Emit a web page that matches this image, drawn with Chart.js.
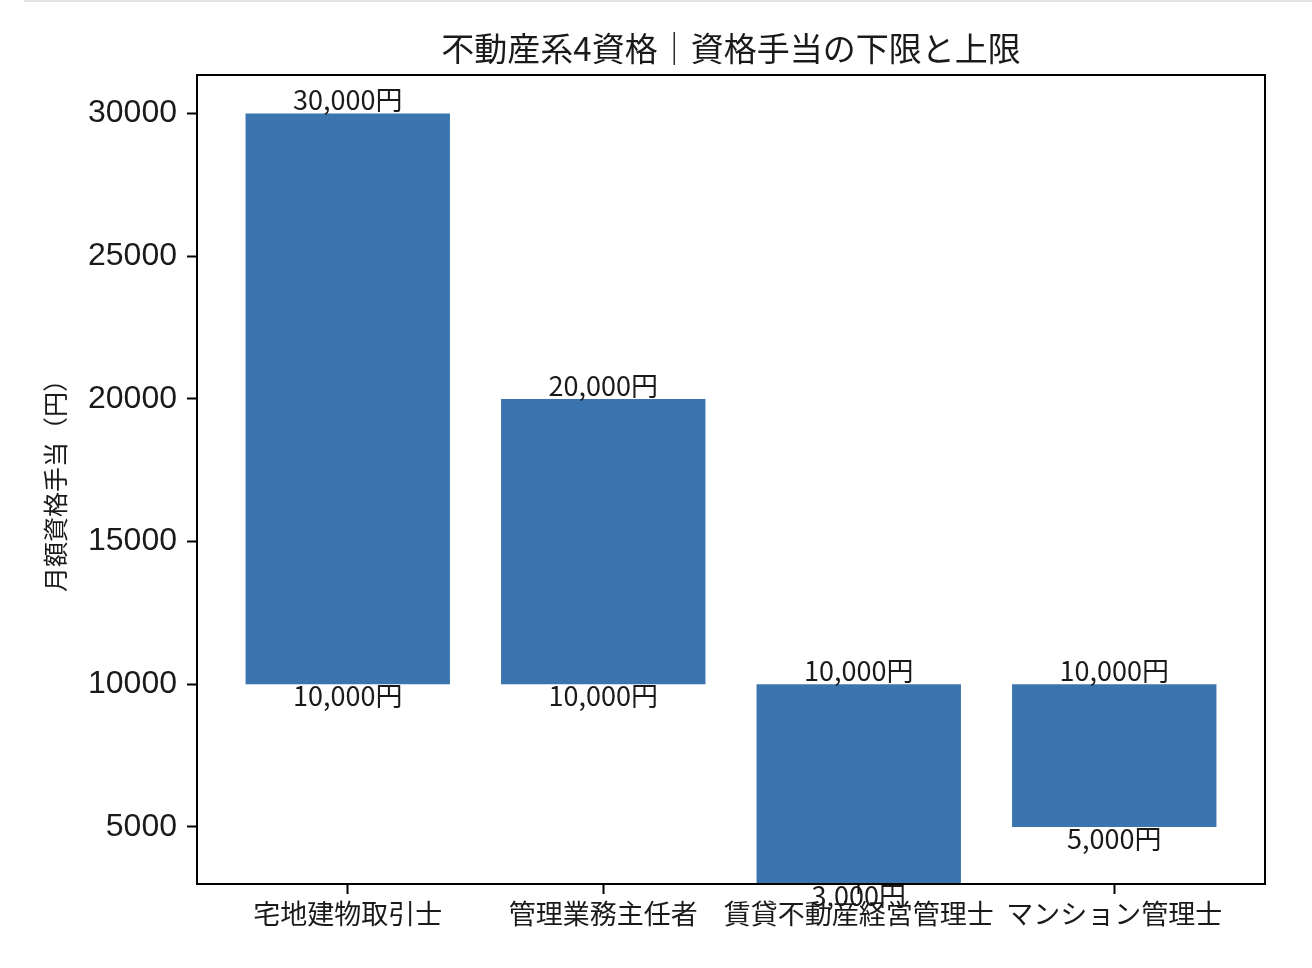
<!DOCTYPE html>
<html>
<head>
<meta charset="utf-8">
<script src="https://cdn.jsdelivr.net/npm/chart.js@4.4.1/dist/chart.umd.min.js"></script>
<style>
  html, body { margin: 0; padding: 0; background: #ffffff; }
  #wrap { position: relative; width: 1312px; height: 968px; }
  #topline { position: absolute; top: 0; left: 24px; right: 0; height: 2px; background: #e3e3e3; }
  canvas { display: block; }
</style>
</head>
<body>
<div id="wrap">
  <canvas id="c" width="1312" height="968"></canvas>
  <div id="topline"></div>
</div>
<script>
const categories = ['宅地建物取引士', '管理業務主任者', '賃貸不動産経営管理士', 'マンション管理士'];
const lowerValues = [10000, 10000, 3000, 5000];
const upperValues = [30000, 20000, 10000, 10000];
const yTickValues = [5000, 10000, 15000, 20000, 25000, 30000];
const titleText = '不動産系4資格｜資格手当の下限と上限';
const yAxisTitle = '月額資格手当（円）';

const JP = '"Noto Sans CJK JP", "Noto Sans", sans-serif';
const NUM = '"Liberation Sans", Arial, sans-serif';

const frameAndLabels = {
  id: 'frameAndLabels',
  afterDatasetsDraw(chart) {
    const ctx = chart.ctx;
    const a = chart.chartArea;
    ctx.save();
    // value labels
    const meta = chart.getDatasetMeta(0);
    ctx.fillStyle = '#1a1a1a';
    ctx.font = '27px ' + JP;
    ctx.textAlign = 'center';
    meta.data.forEach((el, i) => {
      const fmt = v => v.toLocaleString('en-US') + '円';
      ctx.textBaseline = 'bottom';
      ctx.fillText(fmt(upperValues[i]), el.x, el.y);
      ctx.textBaseline = 'top';
      ctx.fillText(fmt(lowerValues[i]), el.x, el.base - 2);
    });
    // frame
    ctx.strokeStyle = '#000';
    ctx.lineWidth = 2;
    ctx.strokeRect(a.left, a.top, a.right - a.left, a.bottom - a.top);
    // title centred over the plot area
    ctx.fillStyle = '#1a1a1a';
    ctx.font = '33px ' + JP;
    ctx.textAlign = 'center';
    ctx.textBaseline = 'middle';
    ctx.fillText(titleText, (a.left + a.right) / 2, 48);
    ctx.restore();
  }
};

new Chart(document.getElementById('c'), {
  type: 'bar',
  data: {
    datasets: [{
      data: categories.map((c, i) => ({ x: i, y: [lowerValues[i], upperValues[i]] })),
      backgroundColor: '#3b75af',
      borderWidth: 0,
      barPercentage: 1.0,
      categoryPercentage: 0.8
    }]
  },
  options: {
    responsive: false,
    animation: false,
    devicePixelRatio: 1,
    layout: { padding: { left: 0, right: 47, top: 75, bottom: 0 } },
    plugins: {
      legend: { display: false },
      tooltip: { enabled: false },
      title: { display: false }
    },
    scales: {
      x: {
        type: 'linear',
        min: -0.59,
        max: 3.59,
        offset: false,
        grid: { display: true, offset: false, drawOnChartArea: false, drawTicks: true, tickLength: 10, tickWidth: 2, tickColor: '#000', color: '#000' },
        border: { display: false },
        afterBuildTicks: (axis) => { axis.ticks = categories.map((c, i) => ({ value: i })); },
        afterFit: (axis) => { axis.height = 84; },
        ticks: {
          autoSkip: false,
          maxRotation: 0,
          minRotation: 0,
          padding: 4,
          color: '#1a1a1a',
          font: { family: JP, size: 27 },
          callback: (v) => categories[v] ?? ''
        }
      },
      y: {
        min: 3000,
        max: 31350,
        grid: { display: true, drawOnChartArea: false, drawTicks: true, tickLength: 10, tickWidth: 2, tickColor: '#000', color: '#000' },
        border: { display: false },
        afterBuildTicks: (axis) => { axis.ticks = yTickValues.map(v => ({ value: v })); },
        afterFit: (axis) => { axis.width = 197; },
        ticks: {
          padding: 10,
          color: '#1a1a1a',
          font: { family: NUM, size: 32 },
          callback: (v) => String(v)
        },
        title: {
          display: true,
          text: yAxisTitle,
          color: '#1a1a1a',
          font: { family: JP, size: 25 },
          padding: { top: 40, bottom: 0 }
        }
      }
    }
  },
  plugins: [frameAndLabels]
});
</script>
</body>
</html>
